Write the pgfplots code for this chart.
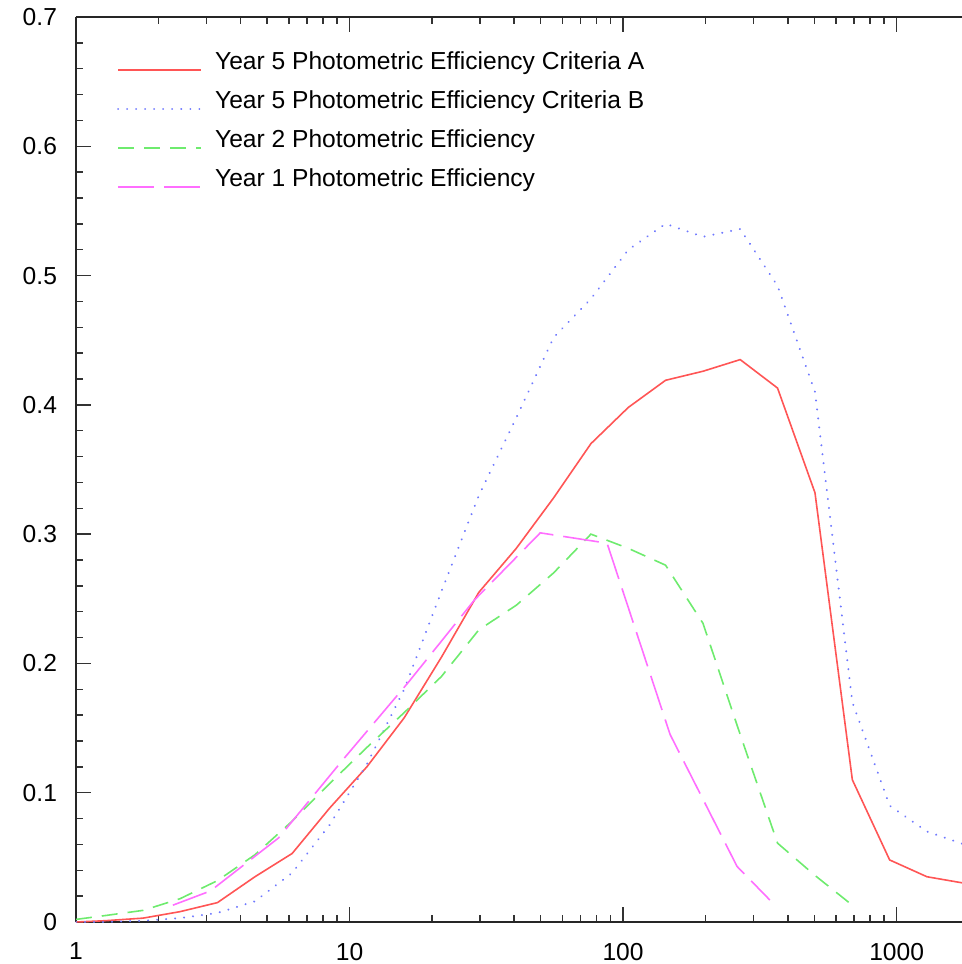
\documentclass[border=0pt]{standalone}
\usepackage{pgfplots}
\pgfplotsset{compat=1.18}
\usepackage{fontspec}
\setmainfont{Liberation Sans}
\definecolor{cred}{RGB}{255,85,85}
\definecolor{cblue}{RGB}{110,120,255}
\definecolor{cgreen}{RGB}{110,235,110}
\definecolor{cmag}{RGB}{255,110,255}
\newcommand{\lblfont}{\fontsize{12.3}{14.8}\selectfont}
\begin{document}
\begin{tikzpicture}
\begin{axis}[
  at={(0,0)}, anchor=south west,
  scale only axis, width=443pt, height=452.5pt,
  xmode=log, xmin=1, xmax=1734, ymin=0, ymax=0.7,
  axis x line*=box, axis y line*=left,
  axis line style={line width=1pt, black!85},
  tick align=inside,
  every tick/.style={line width=0.75pt, black!80},
  major tick length=7.5pt, minor tick length=3.75pt,
  xtick={1,10,100,1000}, xticklabels={1,10,100,1000},
  minor xtick={2,3,4,5,6,7,8,9,20,30,40,50,60,70,80,90,200,300,400,500,600,700,800,900},
  ytick={0,0.1,0.2,0.3,0.4,0.5,0.6,0.7},
  yticklabels={0,0.1,0.2,0.3,0.4,0.5,0.6,0.7},
  minor y tick num=4,
  tick label style={font=\lblfont},
  xticklabel style={yshift=-7pt},
  yticklabel style={xshift=-6pt},
  legend cell align=left,
  legend style={draw=none, fill=none, at={(rel axis cs:0,1)}, anchor=north west,
    xshift=20.5pt, yshift=-13pt, inner sep=0pt, outer sep=0pt,
    row sep=0pt, column sep=6.5pt, font=\lblfont,
    nodes={inner sep=0pt, minimum height=19.5pt}},
  legend image code/.code={\draw[#1, line width=1pt] (0pt,-3.75pt) -- (41.5pt,-3.75pt); \path (0pt,3.75pt);},
]
\addplot[cred, line width=0.8pt] coordinates {
(1,0) (1.28,0.001) (1.76,0.003) (2.40,0.008) (3.29,0.015) (4.51,0.035) (6.17,0.053)
(8.45,0.088) (11.57,0.12) (15.85,0.158) (21.7,0.205) (29.7,0.255) (40.7,0.289)
(55.7,0.328) (76.3,0.370) (104.5,0.398) (143,0.419) (196,0.426) (268,0.435)
(367,0.413) (503,0.332) (689,0.110) (943,0.048) (1291,0.035) (1768,0.030)};
\addlegendentry{Year 5 Photometric Efficiency Criteria A}
\addplot[cblue, line width=1.1pt, line cap=round, dash pattern=on 0.01pt off 4.5pt] coordinates {
(1,0) (1.28,0.0) (1.76,0.001) (2.40,0.003) (3.29,0.007) (4.51,0.016) (6.17,0.038)
(8.45,0.075) (11.57,0.122) (15.85,0.18) (21.7,0.256) (29.7,0.33) (40.7,0.39)
(55.7,0.452) (76.3,0.482) (104.5,0.52) (143,0.54) (196,0.53) (268,0.536)
(367,0.492) (503,0.41) (689,0.17) (943,0.09) (1291,0.07) (1768,0.06)};
\addlegendentry{Year 5 Photometric Efficiency Criteria B}
\addplot[cgreen, line width=0.8pt, dash pattern=on 8pt off 5pt] coordinates {
(1,0.002) (1.28,0.005) (1.76,0.009) (2.40,0.018) (3.29,0.032) (4.51,0.052) (6.17,0.078)
(8.45,0.107) (11.57,0.135) (15.85,0.162) (21.7,0.19) (29.7,0.226) (40.7,0.245)
(55.7,0.27) (76.3,0.30) (104.5,0.289) (143,0.276) (196,0.231) (268,0.145)
(367,0.061) (503,0.036) (689,0.013)};
\addlegendentry{Year 2 Photometric Efficiency}
\addplot[cmag, line width=0.8pt, dash pattern=on 18pt off 5pt] coordinates {
(2.26,0.013) (3.1,0.024) (5.5,0.065) (9.5,0.126) (16.5,0.186) (28.6,0.249)
(49.8,0.301) (87.4,0.293) (148.6,0.145) (261,0.043) (344,0.017)};
\addlegendentry{Year 1 Photometric Efficiency}
\end{axis}
\pgfresetboundingbox
\path[use as bounding box] (-38pt,-21pt) rectangle (443pt,461pt);
\end{tikzpicture}
\end{document}
